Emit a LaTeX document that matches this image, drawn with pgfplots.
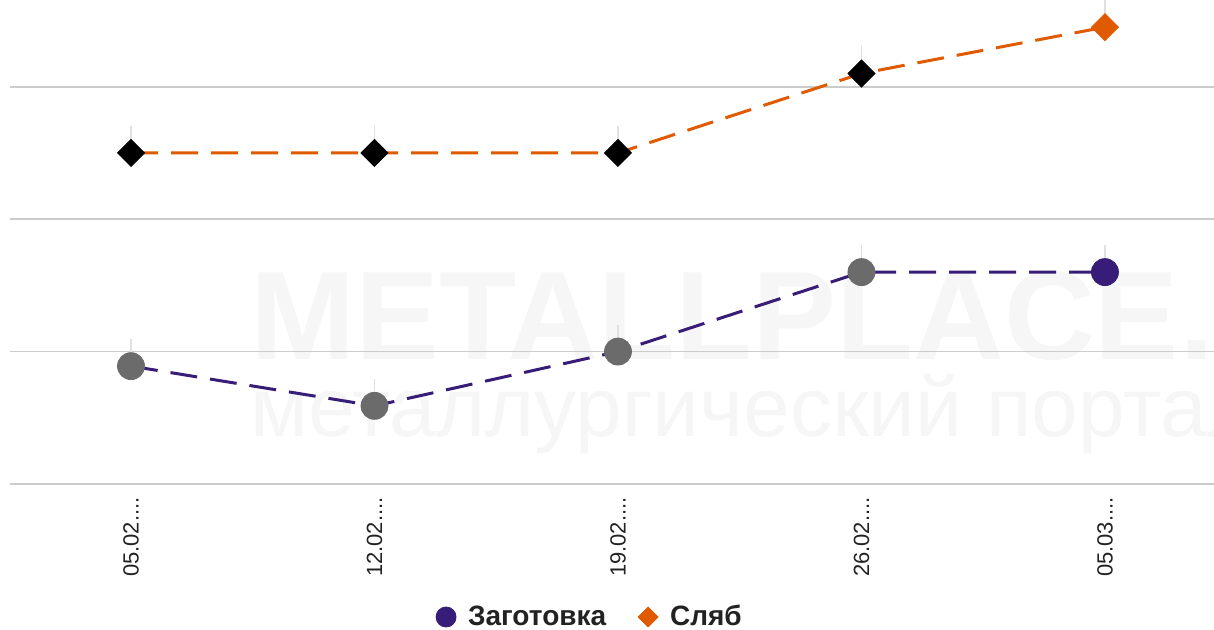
\documentclass[border=0pt]{standalone}
\usepackage{fontspec}
\setmainfont{Liberation Sans}
\usepackage{pgfplots}
\pgfplotsset{compat=1.18}

\definecolor{orng}{RGB}{224,90,0}
\definecolor{purp}{RGB}{55,28,120}
\definecolor{mgray}{RGB}{107,107,107}
\definecolor{gridc}{RGB}{204,204,204}
\definecolor{tickc}{RGB}{224,224,224}
\definecolor{wmark}{RGB}{246,246,246}
\definecolor{txt}{RGB}{34,34,34}
\newcommand{\trunc}{....}

\begin{document}
\begin{tikzpicture}
  \clip (-5pt,-73pt) rectangle (602pt,242pt);
  % faint watermark
  \node[anchor=base west, inner sep=0pt, text=wmark, font=\fontsize{63}{63}\selectfont\bfseries]
    at (120pt,62pt) {METALLPLACE.RU};
  \node[anchor=base west, inner sep=0pt, text=wmark, font=\fontsize{42}{42}\selectfont]
    at (120pt,23.5pt) {металлургический портал};

  \begin{axis}[
    scale only axis,
    width=602pt, height=242pt,
    at={(0pt,0pt)}, anchor=south west,
    xmin=-0.497, xmax=4.448,
    ymin=10, ymax=46.55,
    axis line style={draw=none},
    xtick={0,1,2,3,4},
    xticklabels={05.02\trunc,12.02\trunc,19.02\trunc,26.02\trunc,05.03\trunc},
    ytick={10,20,30,40},
    yticklabels={},
    major tick length=0pt,
    ymajorgrids,
    grid style={draw=gridc, line width=0.8pt},
    xticklabel style={rotate=90, anchor=east, inner sep=0pt,
      font=\fontsize{11}{11}\selectfont, text=txt},
    xticklabel shift=6.5pt,
    legend style={draw=none, fill=none, at={(0.4825,-0.2748)}, anchor=center,
      legend columns=-1, font=\fontsize{14}{14}\selectfont\bfseries, text=txt,
      /tikz/every even column/.append style={column sep=14pt},
      nodes={inner sep=2pt}},
    legend image code/.code={\path[draw=none] (0pt,0pt) -- (14pt,0pt);
      \draw[#1] plot coordinates {(5pt,0pt)};},
  ]
    % faint vertical tick above each point
    \addplot[no markers, draw=none, forget plot,
      error bars/.cd, y dir=plus, y fixed=2.04,
      error bar style={draw=tickc, line width=0.6pt}, error mark=none]
      coordinates {(0,35.0) (1,35.0) (2,35.0) (3,41.0) (4,44.5)};
    \addplot[no markers, draw=none, forget plot,
      error bars/.cd, y dir=plus, y fixed=2.04,
      error bar style={draw=tickc, line width=0.6pt}, error mark=none]
      coordinates {(0,18.9) (1,15.9) (2,20.0) (3,26.0) (4,26.0)};

    % lines
    \addplot[no markers, draw=orng, line width=1.5pt, dash pattern=on 13.5pt off 6.5pt, forget plot]
      coordinates {(0,35.0) (1,35.0) (2,35.0) (3,41.0) (4,44.5)};
    \addplot[no markers, draw=purp, line width=1.5pt, dash pattern=on 13.5pt off 6.5pt, forget plot]
      coordinates {(0,18.9) (1,15.9) (2,20.0) (3,26.0) (4,26.0)};

    % markers
    \addplot[only marks, mark=square*, mark size=4.77pt, mark options={rotate=45, fill=black, draw=black}, forget plot]
      coordinates {(0,35.0) (1,35.0) (2,35.0) (3,41.0)};
    \addplot[only marks, mark=square*, mark size=4.77pt, mark options={rotate=45, fill=orng, draw=orng}, forget plot]
      coordinates {(4,44.5)};
    \addplot[only marks, mark=*, mark size=6.75pt, mark options={fill=mgray, draw=mgray}, forget plot]
      coordinates {(0,18.9) (1,15.9) (2,20.0) (3,26.0)};
    \addplot[only marks, mark=*, mark size=6.75pt, mark options={fill=purp, draw=purp}, forget plot]
      coordinates {(4,26.0)};

    \addlegendimage{only marks, mark=*, mark size=5pt, mark options={fill=purp, draw=purp}}
    \addlegendentry{Заготовка}
    \addlegendimage{only marks, mark=square*, mark size=3.5pt, mark options={rotate=45, fill=orng, draw=orng}}
    \addlegendentry{Сляб}
  \end{axis}
\end{tikzpicture}
\end{document}
